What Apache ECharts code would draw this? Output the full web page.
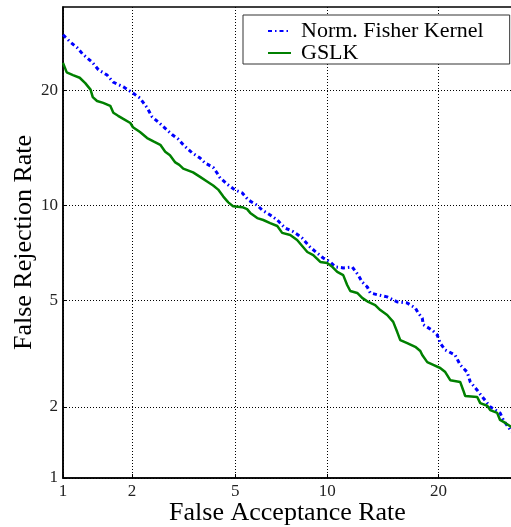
<!DOCTYPE html>
<html>
<head>
<meta charset="utf-8">
<script src="https://cdn.jsdelivr.net/npm/echarts@6/dist/echarts.min.js"></script>
<style>
	html, body {margin: 0; padding: 0; background: #fff;}
	#chart {width: 511px; height: 527px;}
</style>
</head>
<body>
<div id="chart"></div>
<script>
// values in percent
let tickValues = [1, 2, 5, 10, 20];
let xRange = [1, 29.1];
let yRange = [1, 30.1];

let fisherFar = [1.0, 1.08, 1.16, 1.23, 1.35, 1.44, 1.57, 1.67, 1.84, 2.0, 2.16, 2.31, 2.42, 2.56, 2.73, 2.91, 3.07, 3.21, 3.47, 3.72,
	3.88, 4.16, 4.30, 4.41, 4.72, 4.99, 5.29, 5.55, 5.96, 6.2, 6.59, 6.96, 7.38, 7.84, 8.13, 8.37, 8.87, 9.33, 9.73, 10.21,
	10.57, 11.16, 11.86, 12.33, 12.65, 13.08, 13.33, 14.02, 14.82, 15.76, 16.73, 17.54, 17.85, 18.26, 18.37, 19.33, 19.87, 20.2, 20.77, 21.9,
	22.5, 23.33, 23.72, 24.57, 25.33, 26.22, 27.5, 27.93, 28.86, 29.2];
let fisherFrr = [26.5, 25.6, 24.9, 24.1, 23.2, 22.3, 21.7, 20.9, 20.4, 19.8, 19.2, 18.2, 17.3, 16.8, 16.2, 15.6, 15.2, 14.7, 14.0, 13.56,
	13.15, 12.8, 12.35, 11.97, 11.44, 11.07, 10.86, 10.37, 10.0, 9.68, 9.37, 9.05, 8.56, 8.34, 8.15, 7.97, 7.47, 7.15, 6.90, 6.70,
	6.46, 6.41, 6.45, 6.07, 5.76, 5.54, 5.29, 5.21, 5.13, 4.93, 4.89, 4.70, 4.51, 4.33, 4.10, 3.92, 3.77, 3.52, 3.32, 3.18,
	2.92, 2.74, 2.51, 2.33, 2.17, 2.0, 1.89, 1.77, 1.61, 1.57];

let gslkFar = [1.0, 1.04, 1.11, 1.19, 1.26, 1.33, 1.36, 1.42, 1.51, 1.62, 1.67, 1.75, 1.84, 1.97, 2.02, 2.16, 2.31, 2.45, 2.61, 2.73,
	2.85, 2.99, 3.10, 3.21, 3.50, 3.72, 3.95, 4.16, 4.34, 4.53, 4.72, 4.91, 5.29, 5.50, 5.64, 5.96, 6.25, 6.59, 6.96, 7.22,
	7.67, 8.07, 8.69, 9.07, 9.53, 10.0, 10.36, 10.72, 11.16, 11.46, 11.70, 12.25, 12.65, 13.16, 13.75, 14.2, 14.82, 15.38, 15.76, 16.05,
	16.73, 17.54, 18.06, 18.26, 18.79, 19.44, 20.2, 20.77, 21.34, 22.5, 22.86, 23.1, 24.57, 24.95, 25.84, 26.22, 27.13, 27.5, 28.2, 29.2];
let gslkFrr = [23.1, 22.0, 21.7, 21.4, 20.8, 20.1, 19.3, 18.9, 18.7, 18.4, 17.7, 17.4, 17.1, 16.7, 16.3, 15.85, 15.3, 15.0, 14.7, 14.1,
	13.8, 13.2, 13.0, 12.7, 12.4, 12.05, 11.7, 11.4, 11.1, 10.6, 10.2, 9.94, 9.88, 9.75, 9.5, 9.17, 9.05, 8.86, 8.68, 8.27,
	8.15, 7.86, 7.21, 7.05, 6.70, 6.65, 6.46, 6.22, 6.07, 5.63, 5.37, 5.29, 5.09, 4.93, 4.81, 4.62, 4.44, 4.20, 3.86, 3.61,
	3.52, 3.41, 3.29, 3.18, 2.99, 2.92, 2.84, 2.74, 2.55, 2.51, 2.33, 2.21, 2.19, 2.07, 2.02, 1.94, 1.89, 1.77, 1.72, 1.64];

// normal deviate scale (inverse normal cdf, Acklam)
function probit(p)
{
	let a = [-3.969683028665376e+01, 2.209460984245205e+02, -2.759285104469687e+02, 1.383577518672690e+02, -3.066479806614716e+01, 2.506628277459239e+00],
		b = [-5.447609879822406e+01, 1.615858368580409e+02, -1.556989798598866e+02, 6.680131188771972e+01, -1.328068155288572e+01],
		c = [-7.784894002430293e-03, -3.223964580411365e-01, -2.400758277161838e+00, -2.549732539343734e+00, 4.374664141464968e+00, 2.938163982698783e+00],
		d = [7.784695709041462e-03, 3.224671290700398e-01, 2.445134137142996e+00, 3.754408661907416e+00],
		pl = 0.02425, q, r;
	if(p < pl)
	{
		q = Math.sqrt(-2 * Math.log(p));
		return (((((c[0] * q + c[1]) * q + c[2]) * q + c[3]) * q + c[4]) * q + c[5]) / ((((d[0] * q + d[1]) * q + d[2]) * q + d[3]) * q + 1);
	}
	if(p <= 1 - pl)
	{
		q = p - 0.5;
		r = q * q;
		return (((((a[0] * r + a[1]) * r + a[2]) * r + a[3]) * r + a[4]) * r + a[5]) * q / (((((b[0] * r + b[1]) * r + b[2]) * r + b[3]) * r + b[4]) * r + 1);
	}
	q = Math.sqrt(-2 * Math.log(1 - p));
	return -(((((c[0] * q + c[1]) * q + c[2]) * q + c[3]) * q + c[4]) * q + c[5]) / ((((d[0] * q + d[1]) * q + d[2]) * q + d[3]) * q + 1);
}

function z(percent)
{
	return probit(percent / 100);
}

function toPoints(far, frr)
{
	return far.map((v, i) => [z(v), z(frr[i])]);
}

let tickZ = tickValues.map(z);

function tickLabel(v)
{
	let i = tickZ.findIndex(t => Math.abs(t - v) < 1e-6);
	return i < 0 ? '' : String(tickValues[i]);
}

let font = 'Liberation Serif';

function makeAxis(range, name, nameGap)
{
	return {
		type: 'value',
		min: z(range[0]),
		max: z(range[1]),
		name: name,
		nameLocation: 'middle',
		nameGap: nameGap,
		nameMoveOverlap: false,
		nameTextStyle: {fontFamily: font, fontSize: 26, color: '#000'},
		axisLine: {show: true, lineStyle: {color: '#000', width: 1.5}},
		axisTick: {show: true, inside: true, length: 4, customValues: tickZ, lineStyle: {color: '#000', width: 1}},
		axisLabel: {customValues: tickZ, formatter: tickLabel, fontFamily: font, fontSize: 17, color: '#222', margin: 5},
		splitLine: {show: true, lineStyle: {color: '#000', width: 1, type: [1, 2]}}
	};
}

let chart = echarts.init(document.getElementById('chart'), null, {renderer: 'canvas'});

chart.setOption({
	animation: false,
	backgroundColor: '#fff',
	grid: {
		left: 63, top: 7, right: -1, bottom: 49,
		outerBoundsMode: 'none',
		show: true, borderColor: '#000', borderWidth: 1.5, backgroundColor: '#fff'
	},
	legend: {
		orient: 'vertical',
		left: 243,
		top: 15,
		padding: [5, 26, 0, 24],
		itemGap: 0,
		itemWidth: 23,
		itemHeight: 14,
		borderColor: '#333',
		borderWidth: 1,
		borderRadius: 0,
		backgroundColor: '#fff',
		itemStyle: {opacity: 0},
		textStyle: {fontFamily: font, fontSize: 22, color: '#000', lineHeight: 20, padding: [0, 0, 0, 5]},
		data: ['Norm. Fisher Kernel', 'GSLK']
	},
	xAxis: makeAxis(xRange, 'False Acceptance Rate', 22),
	yAxis: makeAxis(yRange, 'False Rejection Rate', 26),
	series: [
		{
			name: 'Norm. Fisher Kernel',
			type: 'line',
			symbol: 'none',
			data: toPoints(fisherFar, fisherFrr),
			lineStyle: {color: '#0000ff', width: 3, type: [4, 3, 1.5, 3]},
			itemStyle: {color: '#0000ff'}
		},
		{
			name: 'GSLK',
			type: 'line',
			symbol: 'none',
			data: toPoints(gslkFar, gslkFrr),
			lineStyle: {color: '#008000', width: 2.5},
			itemStyle: {color: '#008000'}
		}
	]
});
</script>
</body>
</html>
